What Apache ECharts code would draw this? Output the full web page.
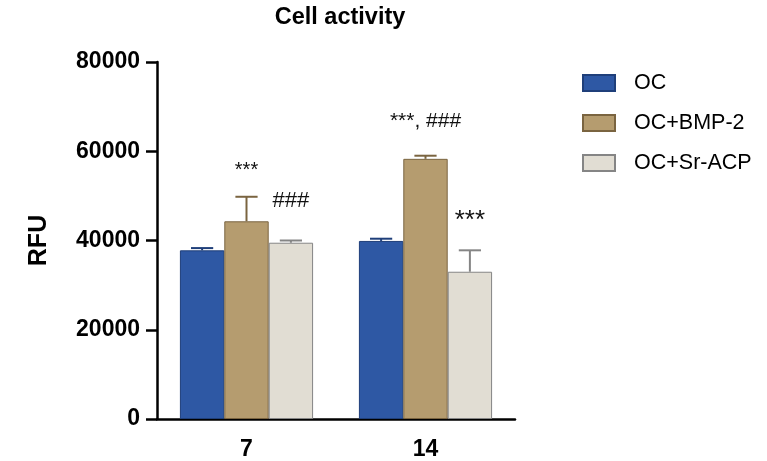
<!DOCTYPE html>
<html>
<head>
<meta charset="utf-8">
<script src="https://cdn.jsdelivr.net/npm/echarts@6/dist/echarts.min.js"></script>
<style>html,body{margin:0;padding:0;background:#fff;}#c{width:767px;height:461px;}</style>
</head>
<body>
<div id="c"></div>
<script>
// ---- data ----
var categories = ['7', '14'];
var seriesNames = ['OC', 'OC+BMP-2', 'OC+Sr-ACP'];
var ocMean = [37800, 39900];
var ocSD = [500, 500];
var bmpMean = [44300, 58300];
var bmpSD = [5500, 700];
var srMean = [39500, 33000];
var srSD = [500, 4800];
var yTicks = [0, 20000, 40000, 60000, 80000];
// annotations: [categoryIndex, seriesIndex, text]
var annotations = [
  [0, 1, '***'],
  [0, 2, '###'],
  [1, 1, '***, ###'],
  [1, 2, '***']
];

// ---- styles ----
var fills = ['#2E58A4', '#B59C6F', '#E1DDD3'];
var borders = ['#1F3F7A', '#7A6440', '#858585'];
var annFont = [20, 22, 21, 26];
var annGap = [26, 40, 35, 29];
var FONT = 'Liberation Sans';
var CATGAP = 0.256;

var means = [ocMean, bmpMean, srMean];
var sds = [ocSD, bmpSD, srSD];

function barGeom(api, cat, si) {
  var band = api.size([1, 0])[0];
  var bw = band * (1 - CATGAP) / 3;
  var cx = api.coord([cat, 0])[0] + (si - 1) * bw;
  return { cx: cx, bw: bw };
}

var series = [];
seriesNames.forEach(function (name, i) {
  series.push({
    name: name,
    type: 'bar',
    data: means[i],
    barGap: '0%',
    barCategoryGap: (CATGAP * 100) + '%',
    itemStyle: { color: fills[i], borderColor: borders[i], borderWidth: 1 },
    z: 2
  });
});
seriesNames.forEach(function (name, i) {
  series.push({
    type: 'custom',
    silent: true,
    z: 1,
    data: means[i].map(function (m, k) { return [k, m, sds[i][k]]; }),
    renderItem: function (params, api) {
      var cat = api.value(0), m = api.value(1), sd = api.value(2);
      var g = barGeom(api, cat, i);
      var yTop = api.coord([cat, m + sd])[1];
      var yBase = api.coord([cat, m])[1];
      var half = g.bw / 4;
      var st = { stroke: borders[i], lineWidth: 2 };
      return {
        type: 'group',
        children: [
          { type: 'line', shape: { x1: g.cx, y1: yBase, x2: g.cx, y2: yTop }, style: st },
          { type: 'line', shape: { x1: g.cx - half, y1: yTop, x2: g.cx + half, y2: yTop }, style: st }
        ]
      };
    }
  });
});
series.push({
  type: 'custom',
  silent: true,
  z: 3,
  data: annotations.map(function (a, k) { return [a[0], a[1], k]; }),
  renderItem: function (params, api) {
    var cat = api.value(0), si = api.value(1), k = api.value(2);
    var g = barGeom(api, cat, si);
    var top = means[si][cat] + sds[si][cat];
    var y = api.coord([cat, top])[1] - annGap[k];
    return {
      type: 'text',
      style: {
        x: g.cx, y: y, text: annotations[k][2],
        fill: '#111', font: annFont[k] + 'px "' + FONT + '"',
        align: 'center', verticalAlign: 'middle'
      }
    };
  }
});

var chart = echarts.init(document.getElementById('c'));
chart.setOption({
  animation: false,
  title: {
    text: 'Cell activity', left: 335, top: 1, textAlign: 'center',
    textStyle: { fontFamily: FONT, fontWeight: 'bold', fontSize: 23.5, color: '#000' }
  },
  legend: {
    data: seriesNames, orient: 'vertical', left: 582, top: 72, padding: 0,
    icon: 'rect',
    itemWidth: 32, itemHeight: 16, itemGap: 18,
    textStyle: { fontFamily: FONT, fontSize: 21.5, color: '#000', padding: [0, 0, 0, 14] }
  },
  grid: { left: 157, right: 252, top: 62, bottom: 41, containLabel: false },
  xAxis: {
    type: 'category', data: categories,
    axisLine: { lineStyle: { color: '#000', width: 2.5 } },
    axisTick: { alignWithLabel: true, length: 11, lineStyle: { color: '#000', width: 2.5 } },
    axisLabel: { fontFamily: FONT, fontWeight: 'bold', fontSize: 23, color: '#000', margin: 19 }
  },
  yAxis: {
    type: 'value', min: yTicks[0], max: yTicks[yTicks.length - 1], interval: yTicks[1] - yTicks[0],
    name: 'RFU', nameLocation: 'middle', nameGap: 105, nameRotate: 90,
    nameTextStyle: { fontFamily: FONT, fontWeight: 'bold', fontSize: 25, color: '#000' },
    splitLine: { show: false },
    axisLine: { show: true, lineStyle: { color: '#000', width: 2.5 } },
    axisTick: { show: true, length: 11, lineStyle: { color: '#000', width: 2.5 } },
    axisLabel: { fontFamily: FONT, fontWeight: 'bold', fontSize: 23, color: '#000', margin: 17,
      formatter: function (v) { return String(v); } }
  },
  series: series
});
</script>
</body>
</html>
